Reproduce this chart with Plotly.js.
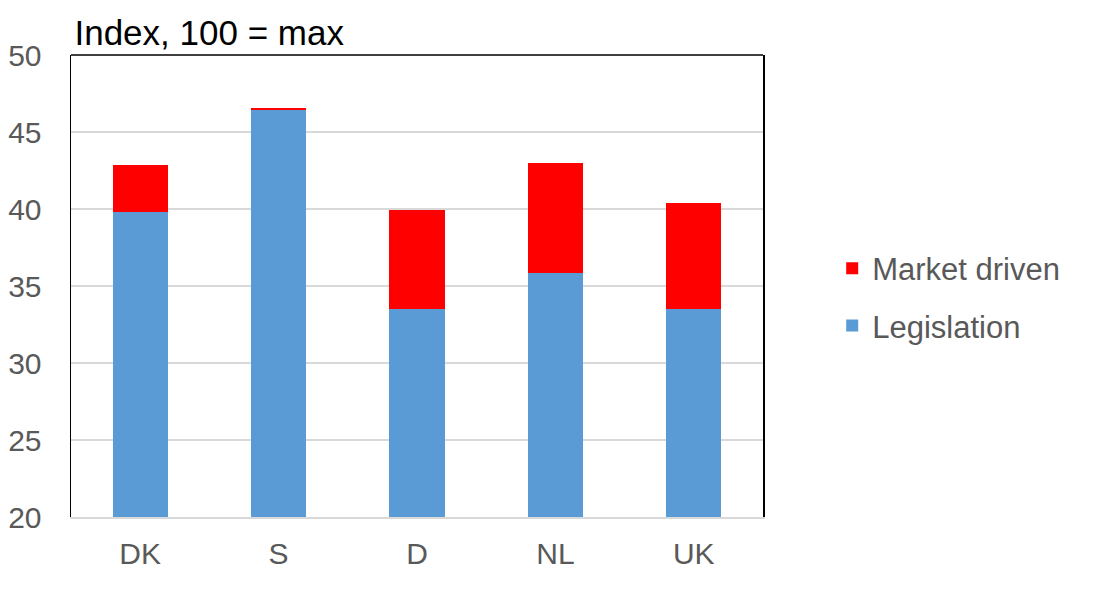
<!DOCTYPE html>
<html>
<head>
<meta charset="utf-8">
<script src="https://cdn.plot.ly/plotly-3.0.1.min.js"></script>
<style>html,body{margin:0;padding:0;background:#fff;}#chart{width:1100px;height:600px;}</style>
</head>
<body>
<div id="chart"></div>
<script>
const countries = ["DK", "S", "D", "NL", "UK"];
const legislation = [39.8, 46.4, 33.5, 35.85, 33.5];
const marketDriven = [3.05, 0.15, 6.45, 7.15, 6.9];
const yTicks = [20, 25, 30, 35, 40, 45, 50];

const FONT = "Liberation Sans, Arial, sans-serif";

const traces = [
  {
    type: "bar", name: "Legislation", x: countries, y: legislation,
    marker: {color: "#5B9BD5"}, width: 0.4, legendgroup: "a", legendrank: 2
  },
  {
    type: "bar", name: "Market driven", x: countries, y: marketDriven,
    marker: {color: "#FF0000"}, width: 0.4, legendgroup: "b", legendrank: 1
  }
];

const layout = {
  width: 1100, height: 600,
  margin: {l: 71, r: 337, t: 55, b: 83},
  barmode: "stack",
  paper_bgcolor: "#fff", plot_bgcolor: "#fff",
  font: {family: FONT, color: "#595959", size: 30},
  title: {
    text: "Index, 100 = max",
    font: {family: FONT, color: "#000", size: 35},
    xref: "paper", x: 0.005, xanchor: "left",
    yref: "paper", y: 1, yanchor: "bottom", pad: {b: 10}
  },
  xaxis: {
    showline: true, linecolor: "#d9d9d9", linewidth: 2,
    ticks: "", ticklabelstandoff: 9,
    tickfont: {size: 30, color: "#595959"}
  },
  yaxis: {
    range: [20, 50], tickvals: yTicks, ticktext: yTicks.map(String),
    showgrid: true, gridcolor: "#d9d9d9", gridwidth: 2,
    showline: true, mirror: true, linecolor: "#000", linewidth: 1.5,
    zeroline: false, ticks: "", ticklabelstandoff: 22,
    tickfont: {size: 30, color: "#595959"}
  },
  shapes: [{
    type: "line", xref: "paper", yref: "paper", x0: 0, x1: 1, y0: 1, y1: 1,
    line: {color: "#000", width: 1.5}
  }],
  legend: {
    x: 1.1, xanchor: "left", y: 0.476, yanchor: "middle",
    traceorder: "grouped", tracegroupgap: 14,
    font: {size: 31, color: "#595959"}
  },
  showlegend: true
};

Plotly.newPlot("chart", traces, layout, {displayModeBar: false, staticPlot: true});
</script>
</body>
</html>
